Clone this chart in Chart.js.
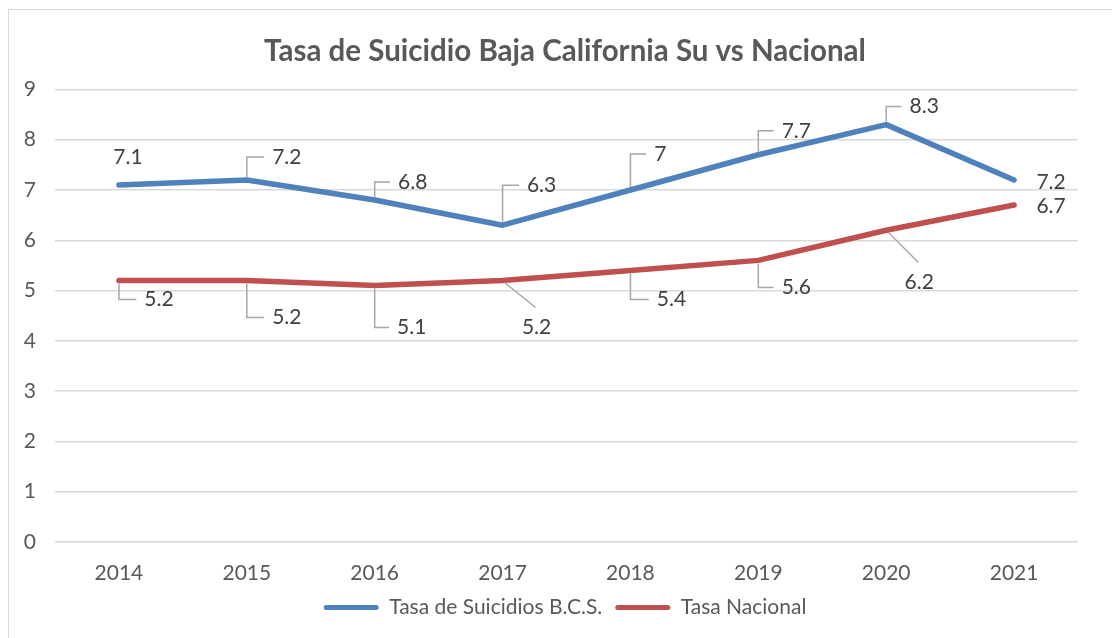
<!DOCTYPE html>
<html>
<head>
<meta charset="utf-8">
<script src="https://cdn.jsdelivr.net/npm/chart.js@4.4.1/dist/chart.umd.min.js"></script>
<style>
  html, body { margin: 0; padding: 0; background: #fff; overflow: hidden; }
  #marco { position: absolute; left: 8px; top: 9px; width: 1200px; height: 700px; border: 1px solid #d9d9d9; }
  #wrap { position: absolute; left: 0; top: 0; width: 1112px; height: 638px; }
</style>
</head>
<body>
<div id="marco"></div>
<div id="wrap"><canvas id="grafica"></canvas></div>
<script>
// Datos
const anios = ['2014', '2015', '2016', '2017', '2018', '2019', '2020', '2021'];
const tasaBCS = [7.1, 7.2, 6.8, 6.3, 7.0, 7.7, 8.3, 7.2];
const tasaNacional = [5.2, 5.2, 5.1, 5.2, 5.4, 5.6, 6.2, 6.7];
const ticksY = [0, 1, 2, 3, 4, 5, 6, 7, 8, 9];

const AZUL = '#4F81BD';
const ROJO = '#C0504D';
const GRIS = '#595959';
const FUENTE = "Lato, 'Open Sans', sans-serif";

// Etiquetas de datos con líneas guía (estilo Excel)
const etiquetas = {
  id: 'etiquetas',
  afterDatasetsDraw(chart, args, opts) {
    const ctx = chart.ctx;
    ctx.save();
    ctx.font = '21px ' + FUENTE;
    ctx.textAlign = 'center';
    ctx.textBaseline = 'middle';
    chart.data.datasets.forEach((ds, di) => {
      const meta = chart.getDatasetMeta(di);
      const pos = opts.pos[di];
      meta.data.forEach((pt, i) => {
        const [dx, dy, tipo] = pos[i];
        const txt = String(ds.data[i]);
        const cx = pt.x + dx, cy = pt.y + dy;
        const w = ctx.measureText(txt).width;
        ctx.strokeStyle = '#a6a6a6';
        ctx.lineWidth = 1.5;
        if (tipo === 'codo') {
          const sy = pt.y + (dy < 0 ? -3 : 3);
          ctx.beginPath();
          ctx.moveTo(pt.x, sy);
          ctx.lineTo(pt.x, cy);
          ctx.lineTo(cx - w / 2 - 8, cy);
          ctx.stroke();
        } else if (tipo === 'diag') {
          ctx.beginPath();
          ctx.moveTo(pt.x + 2, pt.y + 2);
          ctx.lineTo(cx - 1, cy - 20);
          ctx.stroke();
        }
        ctx.fillStyle = '#404040';
        ctx.fillText(txt, cx, cy);
      });
    });
    ctx.restore();
  }
};

const ctx = document.getElementById('grafica').getContext('2d');
new Chart(ctx, {
  type: 'line',
  data: {
    labels: anios,
    datasets: [
      { label: 'Tasa de Suicidios B.C.S.', data: tasaBCS, borderColor: AZUL, backgroundColor: AZUL,
        borderWidth: 5.5, pointRadius: 0, tension: 0, borderCapStyle: 'round', borderJoinStyle: 'round' },
      { label: 'Tasa Nacional', data: tasaNacional, borderColor: ROJO, backgroundColor: ROJO,
        borderWidth: 5.5, pointRadius: 0, tension: 0, borderCapStyle: 'round', borderJoinStyle: 'round' }
    ]
  },
  options: {
    responsive: true,
    maintainAspectRatio: false,
    animation: false,
    events: [],
    layout: { padding: { left: 18, right: 0, top: 0, bottom: 10 } },
    plugins: {
      title: {
        display: true,
        text: 'Tasa de Suicidio Baja California Su vs Nacional',
        color: GRIS,
        font: { family: FUENTE, size: 29.5, weight: 'bold' },
        padding: { top: 34, bottom: 20 }
      },
      legend: {
        position: 'bottom',
        labels: {
          color: GRIS,
          font: { family: FUENTE, size: 21 },
          boxWidth: 55,
          boxHeight: 5,
          padding: 13,
          generateLabels: (chart) => Chart.defaults.plugins.legend.labels.generateLabels(chart)
            .map((l) => ({ ...l, lineWidth: 0, strokeStyle: 'rgba(0,0,0,0)', borderRadius: 2.5 }))
        }
      },
      tooltip: { enabled: false },
      etiquetas: {
        pos: [
          [[9, -28, 'ninguna'], [40, -23, 'codo'], [38, -18, 'codo'], [39, -40, 'codo'],
           [30, -36, 'codo'], [38, -24, 'codo'], [38, -18, 'codo'], [37, 2, 'ninguna']],
          [[40, 19, 'codo'], [40, 37, 'codo'], [37, 42, 'codo'], [34, 47, 'diag'],
           [41, 29, 'codo'], [38, 27, 'codo'], [33, 52, 'diag'], [37, 1, 'ninguna']]
        ]
      }
    },
    scales: {
      x: {
        offset: true,
        grid: { display: false, drawTicks: false },
        border: { display: false },
        ticks: { color: GRIS, font: { family: FUENTE, size: 21 }, padding: 19, maxRotation: 0 },
        afterFit: (s) => { s.height = 42; }
      },
      y: {
        min: ticksY[0],
        max: ticksY[ticksY.length - 1],
        afterBuildTicks: (s) => { s.ticks = ticksY.map((v) => ({ value: v })); },
        grid: { color: '#d9d9d9', lineWidth: 1.5, drawTicks: false },
        border: { display: false },
        ticks: { color: GRIS, font: { family: FUENTE, size: 21 }, padding: 19 },
        afterFit: (s) => { s.width = 37; }
      },
      // margen derecho del área de trazado
      margen: {
        axis: 'y',
        position: 'right',
        grid: { display: false, drawTicks: false },
        border: { display: false },
        ticks: { display: false },
        afterFit: (s) => { s.width = 34; }
      }
    }
  },
  plugins: [etiquetas]
});
</script>
</body>
</html>
